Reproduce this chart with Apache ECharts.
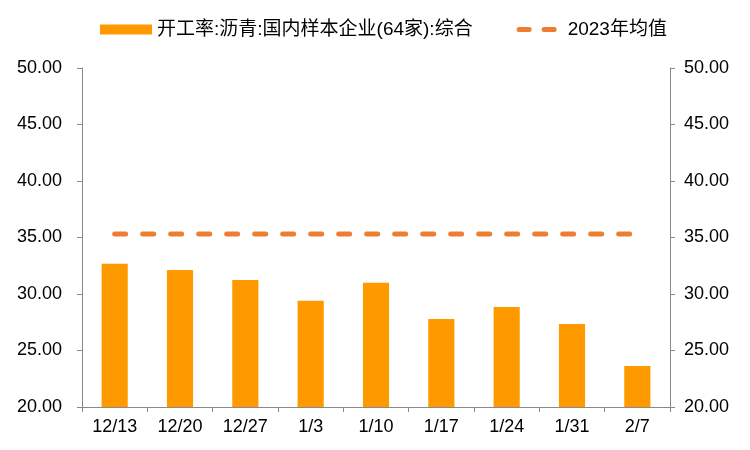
<!DOCTYPE html>
<html><head><meta charset="utf-8">
<script src="https://cdn.jsdelivr.net/npm/echarts@6/dist/echarts.min.js"></script>
<style>html,body{margin:0;padding:0;background:#fff}#c{width:750px;height:450px}</style>
</head><body><div id="c"></div>
<script>
const categories = ['12/13','12/20','12/27','1/3','1/10','1/17','1/24','1/31','2/7'];
const rateValues = [32.68, 32.12, 31.24, 29.41, 31.0, 27.79, 28.85, 27.35, 23.63];
const avg2023 = 35.3;
const avgValues = categories.map(() => avg2023);
const seriesNames = ['开工率:沥青:国内样本企业(64家):综合', '2023年均值'];

const font = '"Liberation Sans", Arial, "Noto Sans CJK SC", sans-serif';
const chart = echarts.init(document.getElementById('c'));
const yAxisCommon = {
  type: 'value', min: 20, max: 50, interval: 5,
  axisLine: {show: true, lineStyle: {color: '#898989', width: 1}},
  axisTick: {show: true, inside: false, length: 5, lineStyle: {color: '#898989'}},
  splitLine: {show: false},
  axisLabel: {color: '#000', fontSize: 18, fontFamily: font, formatter: v => v.toFixed(2)}
};
chart.setOption({
  animation: false,
  textStyle: {fontFamily: font},
  legend: {
    top: 15, left: 95, itemGap: 44, itemWidth: 52, itemHeight: 10,
    textStyle: {color: '#000', fontSize: 19, fontFamily: font},
    data: [
      {name: seriesNames[0], icon: 'rect'},
      {name: seriesNames[1],
       icon: 'path://M0,0 L0,0 M40,10 L40,10 M2.5,2.5 L12.5,2.5 A2.5,2.5 0 0 1 12.5,7.5 L2.5,7.5 A2.5,2.5 0 0 1 2.5,2.5 Z M27.5,2.5 L37.5,2.5 A2.5,2.5 0 0 1 37.5,7.5 L27.5,7.5 A2.5,2.5 0 0 1 27.5,2.5 Z',
       itemStyle: {color: '#ED7D31'}}
    ]
  },
  grid: {left: 82, right: 80, top: 68, bottom: 43, containLabel: false},
  xAxis: {
    type: 'category', data: categories, boundaryGap: true,
    axisLine: {show: true, lineStyle: {color: '#898989'}},
    axisTick: {show: true, length: 5, lineStyle: {color: '#898989'}},
    axisLabel: {color: '#000', fontSize: 18, fontFamily: font, margin: 11}
  },
  yAxis: [
    Object.assign({position: 'left'}, yAxisCommon, {axisLabel: Object.assign({}, yAxisCommon.axisLabel, {margin: 20})}),
    Object.assign({position: 'right'}, yAxisCommon, {axisLabel: Object.assign({}, yAxisCommon.axisLabel, {margin: 14})})
  ],
  series: [
    {name: seriesNames[0], type: 'bar', data: rateValues, barWidth: '40%',
     itemStyle: {color: '#FF9900'}, yAxisIndex: 0},
    {name: seriesNames[1], type: 'line', data: avgValues, yAxisIndex: 0,
     symbol: 'none', itemStyle: {color: '#ED7D31'},
     lineStyle: {color: '#ED7D31', width: 5, type: [11, 17], cap: 'round'}}
  ]
});
</script></body></html>
